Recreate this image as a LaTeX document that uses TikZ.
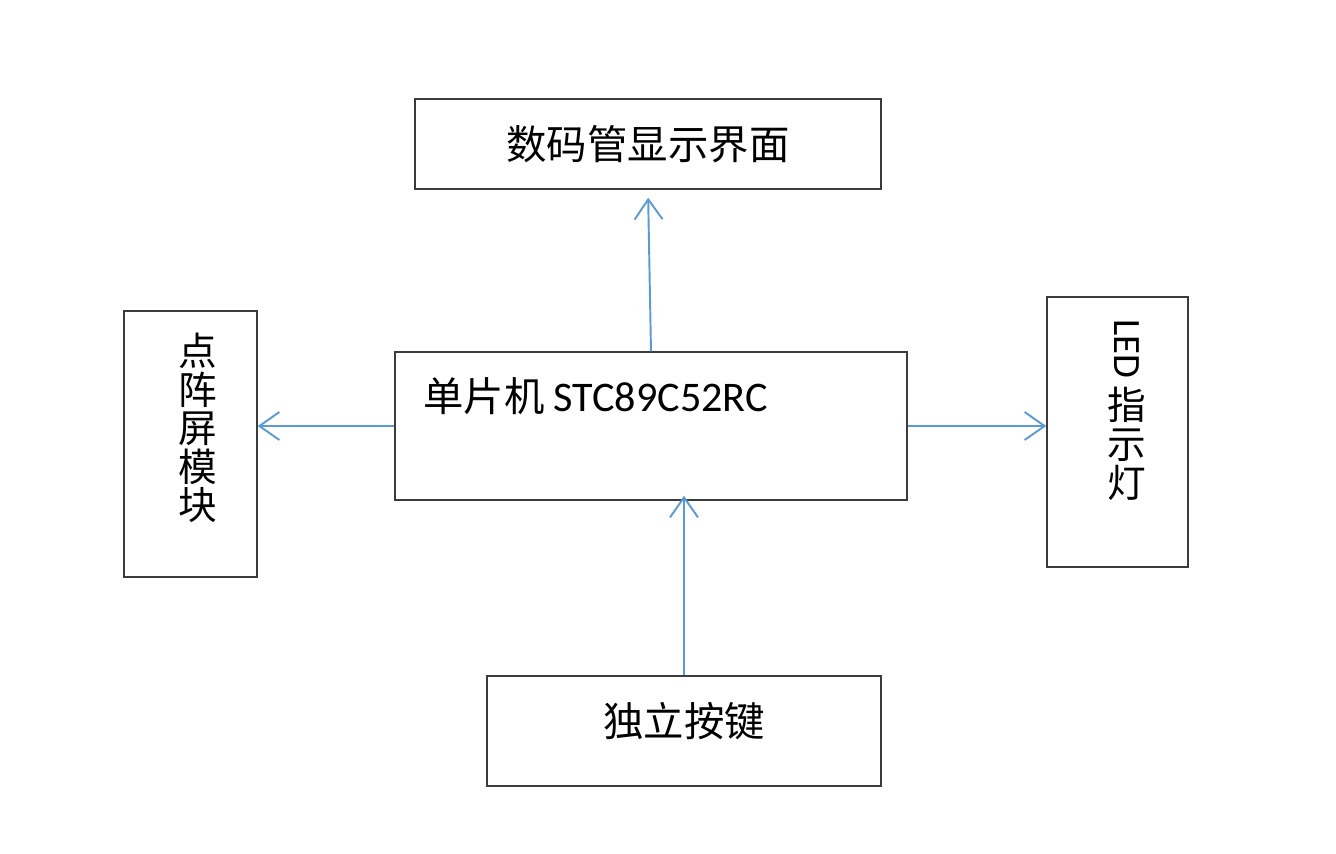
\documentclass[tikz,border=0pt]{standalone}
\usepackage{fontspec}
\usepackage{graphicx}
\setmainfont{Carlito}
\newfontfamily\cjk{Noto Sans CJK SC}
\usetikzlibrary{arrows.meta}
\definecolor{linkblue}{RGB}{91,155,213}
\definecolor{boxline}{RGB}{60,60,60}
\newcommand*{\px}{0.02cm}
\tikzset{
    block/.style = {draw=boxline, line width=0.8pt, inner sep=0pt},
    link/.style  = {draw=linkblue, line width=1.1pt, -{Straight Barb[length=0.4cm, width=0.56cm]}},
    lbl/.style   = {inner sep=0pt, font=\fontsize{23}{23}\selectfont},
    cjklbl/.style = {inner sep=0pt, align=center, font=\cjk\fontsize{22}{22}\selectfont},
}

\begin{document}
\begin{tikzpicture}[x=\px, y=-\px]
    \useasboundingbox (0,0) rectangle (1336,853);
    % blocks
    \node [block, lbl, minimum width=466*\px, minimum height=90*\px] (disp) at (648,144) {\cjk 数码管显示界面};
    \node [block, minimum width=133*\px, minimum height=266*\px] (matrix) at (190.5,444) {};
    \node [block, minimum width=512*\px, minimum height=148*\px] (mcu) at (651,426) {};
    \node [block, minimum width=141*\px, minimum height=270*\px] (led) at (1117.5,432) {};
    \node [block, minimum width=394*\px, minimum height=110*\px] (keys) at (684,731) {};
    % texts
    \node [lbl, anchor=west] (mcu text) at (423,396) {{\cjk 单片机} {\fontsize{24}{24}\selectfont STC89C52RC}};
    \node [cjklbl] (matrix text) at (198,428) {点\\阵\\屏\\模\\块};
    \node [cjklbl] (led text) at (1127,410) {{\fontspec{Carlito}\rotatebox{-90}{LED}}\\[4pt]指\\示\\灯};
    \node [lbl] (keys text) at (684,721) {\cjk 独立按键};
    % connectors
    \draw [link, shorten >=0.16cm] (mcu.north) -- (disp.south);
    \draw [link] (mcu.west) -- (mcu.west -| matrix.east);
    \draw [link] (mcu.east) -- (mcu.east -| led.west);
    \draw [link, shorten >=-0.1cm] (keys.north) -- (keys.north |- mcu.south);
\end{tikzpicture}
\end{document}
